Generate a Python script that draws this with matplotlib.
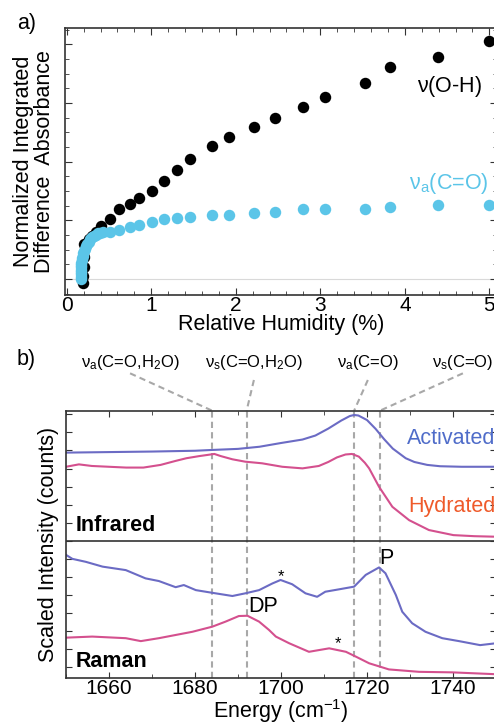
import numpy as np
import matplotlib
matplotlib.use('Agg')
import matplotlib.pyplot as plt
from matplotlib.ticker import MultipleLocator

plt.rcParams['font.family'] = ['Liberation Sans', 'DejaVu Sans']
plt.rcParams['mathtext.fontset'] = 'custom'
plt.rcParams['mathtext.rm'] = 'Liberation Sans'
plt.rcParams['mathtext.default'] = 'regular'

########
## PANEL a) DATA (read off the picture)
rh_oh = [0.19, 0.19, 0.20, 0.21, 0.20, 0.26, 0.30, 0.35, 0.41, 0.51, 0.62, 0.75, 0.86,
         1.01, 1.15, 1.30, 1.46, 1.72, 1.92, 2.21, 2.46, 2.79, 3.06, 3.53, 3.82, 4.39, 5.00]
abs_oh = [-0.07, 0.05, 0.20, 0.38, 0.60, 0.68, 0.74, 0.81, 0.91, 1.02, 1.19, 1.28, 1.38,
          1.51, 1.68, 1.86, 2.05, 2.27, 2.42, 2.59, 2.74, 2.93, 3.10, 3.35, 3.61, 3.79, 4.06]

rh_co = [0.175, 0.175, 0.175, 0.172, 0.172, 0.172, 0.172, 0.175, 0.178, 0.182, 0.188, 0.195,
         0.205, 0.215, 0.228, 0.242, 0.258, 0.275, 0.295, 0.318, 0.342, 0.368, 0.395, 0.425,
         0.51, 0.62, 0.75, 0.86, 1.01, 1.15, 1.30, 1.46, 1.72, 1.92, 2.21, 2.46, 2.79, 3.06,
         3.53, 3.82, 4.39, 5.00]
abs_co = [0.00, 0.04, 0.08, 0.12, 0.16, 0.20, 0.24, 0.28, 0.32, 0.36, 0.40, 0.44,
          0.48, 0.52, 0.56, 0.60, 0.64, 0.68, 0.71, 0.74, 0.76, 0.78, 0.79, 0.80,
          0.80, 0.84, 0.89, 0.93, 0.98, 1.02, 1.045, 1.06, 1.085, 1.10, 1.125, 1.14, 1.19, 1.19,
          1.20, 1.23, 1.26, 1.26]

########
## PANEL b) DATA
ir_act_e = [1650, 1660, 1670, 1680, 1684, 1690, 1695, 1700, 1705, 1708, 1711, 1714, 1716,
            1717, 1718, 1720, 1722, 1724, 1726, 1729, 1731, 1734, 1737, 1742, 1750]
ir_act_i = [0.843, 0.845, 0.847, 0.850, 0.853, 0.857, 0.865, 0.879, 0.892, 0.907, 0.933, 0.963, 0.980,
            0.984, 0.982, 0.965, 0.932, 0.893, 0.858, 0.822, 0.808, 0.797, 0.792, 0.790, 0.790]

ir_hyd_e = [1650, 1653, 1656, 1660, 1664, 1668, 1672, 1675.5, 1678, 1681, 1684.5, 1686, 1688.7,
            1691.7, 1695.6, 1700.3, 1705, 1708.8, 1711, 1713, 1715, 1716.5, 1718.1, 1719.5, 1720.5,
            1722.8, 1725.9, 1729.8, 1734.4, 1740.1, 1745, 1750]
ir_hyd_i = [0.790, 0.799, 0.793, 0.790, 0.787, 0.787, 0.797, 0.812, 0.822, 0.830, 0.838, 0.830, 0.818,
            0.809, 0.803, 0.790, 0.784, 0.793, 0.808, 0.825, 0.836, 0.838, 0.828, 0.805, 0.784,
            0.715, 0.640, 0.590, 0.553, 0.534, 0.530, 0.528]

ra_act_e = [1650, 1651.5, 1654.6, 1658.5, 1663.9, 1668.5, 1671.6, 1675.5, 1677.4, 1680.2, 1684,
            1688.7, 1691.7, 1694.9, 1698, 1699.9, 1702.6, 1705.7, 1708.4, 1710.3, 1713.5, 1717,
            1719.7, 1722.8, 1724.3, 1726.7, 1728.2, 1730.5, 1733.6, 1737.5, 1741.4, 1746.3, 1750]
ra_act_i = [0.460, 0.445, 0.434, 0.416, 0.403, 0.372, 0.362, 0.339, 0.347, 0.328, 0.318,
            0.306, 0.316, 0.328, 0.353, 0.366, 0.350, 0.316, 0.303, 0.322, 0.331, 0.341,
            0.385, 0.413, 0.391, 0.310, 0.247, 0.204, 0.172, 0.148, 0.137, 0.122, 0.129]

ra_hyd_e = [1650, 1656.1, 1663.9, 1667.4, 1671.6, 1675.5, 1679.4, 1684, 1687.1, 1690.2, 1692.2,
            1694.9, 1697.2, 1698.8, 1701.9, 1706.5, 1711.2, 1715.1, 1717.4, 1720.5, 1725.1,
            1732.1, 1739.8, 1750]
ra_hyd_i = [0.150, 0.154, 0.148, 0.137, 0.148, 0.160, 0.172, 0.191, 0.210, 0.231, 0.232,
            0.210, 0.179, 0.154, 0.129, 0.097, 0.110, 0.097, 0.079, 0.054, 0.031,
            0.022, 0.020, 0.013]

mode_pos = [1684, 1692, 1717, 1723]
mode_lab = [r'$\nu_a$(C=O,H$_2$O)', r'$\nu_s$(C=O,H$_2$O)', r'$\nu_a$(C=O)', r'$\nu_s$(C=O)']
mode_lab_x = [1664.9, 1693.7, 1720.2, 1742.3]

c_act = '#6b6bc4'
c_hyd = '#d4508e'
c_cyan = '#5bc5e8'
c_spine = '#333333'

fig = plt.figure(figsize=(4.94, 7.26), dpi=100)

W, H = 494., 726.
def box(l, t, r, b):
    return [l / W, 1 - b / H, (r - l) / W, (b - t) / H]

#### a)
ax1 = fig.add_axes(box(65, 28, 497, 295))
ax1.axhline(0, color='#d9d9d9', lw=0.8, zorder=0)
ax1.scatter(rh_oh, abs_oh, s=68, color='black', zorder=2, linewidths=0)
ax1.scatter(rh_co, abs_co, s=68, color=c_cyan, zorder=3, linewidths=0)
ax1.set_xlim(-0.02, 5.09)
ax1.set_ylim(-0.27, 4.28)
ax1.xaxis.set_major_locator(MultipleLocator(1))
ax1.xaxis.set_minor_locator(MultipleLocator(0.2))
ax1.yaxis.set_major_locator(MultipleLocator(1))
ax1.yaxis.set_minor_locator(MultipleLocator(0.25))
ax1.tick_params(which='both', direction='in', top=True, right=True, color=c_spine)
ax1.tick_params(which='major', length=5, labelsize=15, pad=1)
ax1.tick_params(which='minor', length=3)
ax1.set_yticklabels([])
ax1.set_xlabel('Relative Humidity (%)', fontsize=15.5, labelpad=-1)
ax1.set_ylabel('Normalized Integrated\nDifference  Absorbance', fontsize=15.5, labelpad=4, linespacing=1.0)
ax1.text(4.53, 3.28, r'$\nu$(O-H)', fontsize=15.5, ha='center', va='center')
ax1.text(4.52, 1.63, r'$\nu_a$(C=O)', fontsize=15.5, ha='center', va='center', color=c_cyan)
for s in ax1.spines.values():
    s.set_color(c_spine)
    s.set_linewidth(1.2)
fig.text(17 / W, 1 - 24 / H, 'a)', fontsize=15.5, ha='left', va='center')

#### b)
ax2 = fig.add_axes(box(66, 410.7, 496, 677.7))
ax2.plot(ir_act_e, ir_act_i, color=c_act, lw=1.5)
ax2.plot(ir_hyd_e, ir_hyd_i, color=c_hyd, lw=1.5)
ax2.plot(ra_act_e, ra_act_i, color=c_act, lw=1.5)
ax2.plot(ra_hyd_e, ra_hyd_i, color=c_hyd, lw=1.5)
ax2.axhline(0.513, color=c_spine, lw=1.2)
for xp in mode_pos:
    ax2.axvline(xp, color='#a8a8a8', lw=1.5, ls=(0, (3, 2)), zorder=0)
for xp, xl, lab in zip(mode_pos, mode_lab_x, mode_lab):
    y0 = 1.14 if abs(xl - xp) > 10 else 1.115
    ax2.plot([xl, xp], [y0, 1.0], color='#a8a8a8', lw=1.5, ls=(0, (3, 2)), clip_on=False)
    ax2.text(xl, 1.18, lab, fontsize=12, ha='center', va='center')
ax2.set_xlim(1650, 1750)
ax2.set_ylim(0, 1)
ax2.xaxis.set_major_locator(MultipleLocator(20))
ax2.xaxis.set_minor_locator(MultipleLocator(10))
ax2.set_yticks(np.arange(0.041, 1.0, 0.0675))
ax2.set_yticklabels([])
ax2.tick_params(which='both', direction='in', top=True, right=True, color=c_spine)
ax2.tick_params(which='major', length=4, labelsize=15, pad=1)
ax2.tick_params(which='minor', length=3)
ax2.set_xlabel('Energy (cm$^{-1}$)', fontsize=15.5, labelpad=-1)
ax2.set_ylabel('Scaled Intensity (counts)', fontsize=15.5, labelpad=4)
ax2.text(1652.3, 0.571, 'Infrared', fontsize=15.5, fontweight='bold', ha='left', va='center')
ax2.text(1652.3, 0.062, 'Raman', fontsize=15.5, fontweight='bold', ha='left', va='center')
ax2.text(1749.8, 0.897, 'Activated', fontsize=15.5, ha='right', va='center', color='#4f6cc9')
ax2.text(1749.8, 0.640, 'Hydrated', fontsize=15.5, ha='right', va='center', color='#ef5a2a')
ax2.text(1724.5, 0.447, 'P', fontsize=15.5, ha='center', va='center')
ax2.text(1695.9, 0.266, 'DP', fontsize=15.5, ha='center', va='center')
ax2.text(1700, 0.380, '*', fontsize=12, ha='center', va='center')
ax2.text(1713.3, 0.128, '*', fontsize=12, ha='center', va='center')
for s in ax2.spines.values():
    s.set_color(c_spine)
    s.set_linewidth(1.2)
fig.text(17 / W, 1 - 360 / H, 'b)', fontsize=15.5, ha='left', va='center')

plt.savefig('out.png', dpi=100)
